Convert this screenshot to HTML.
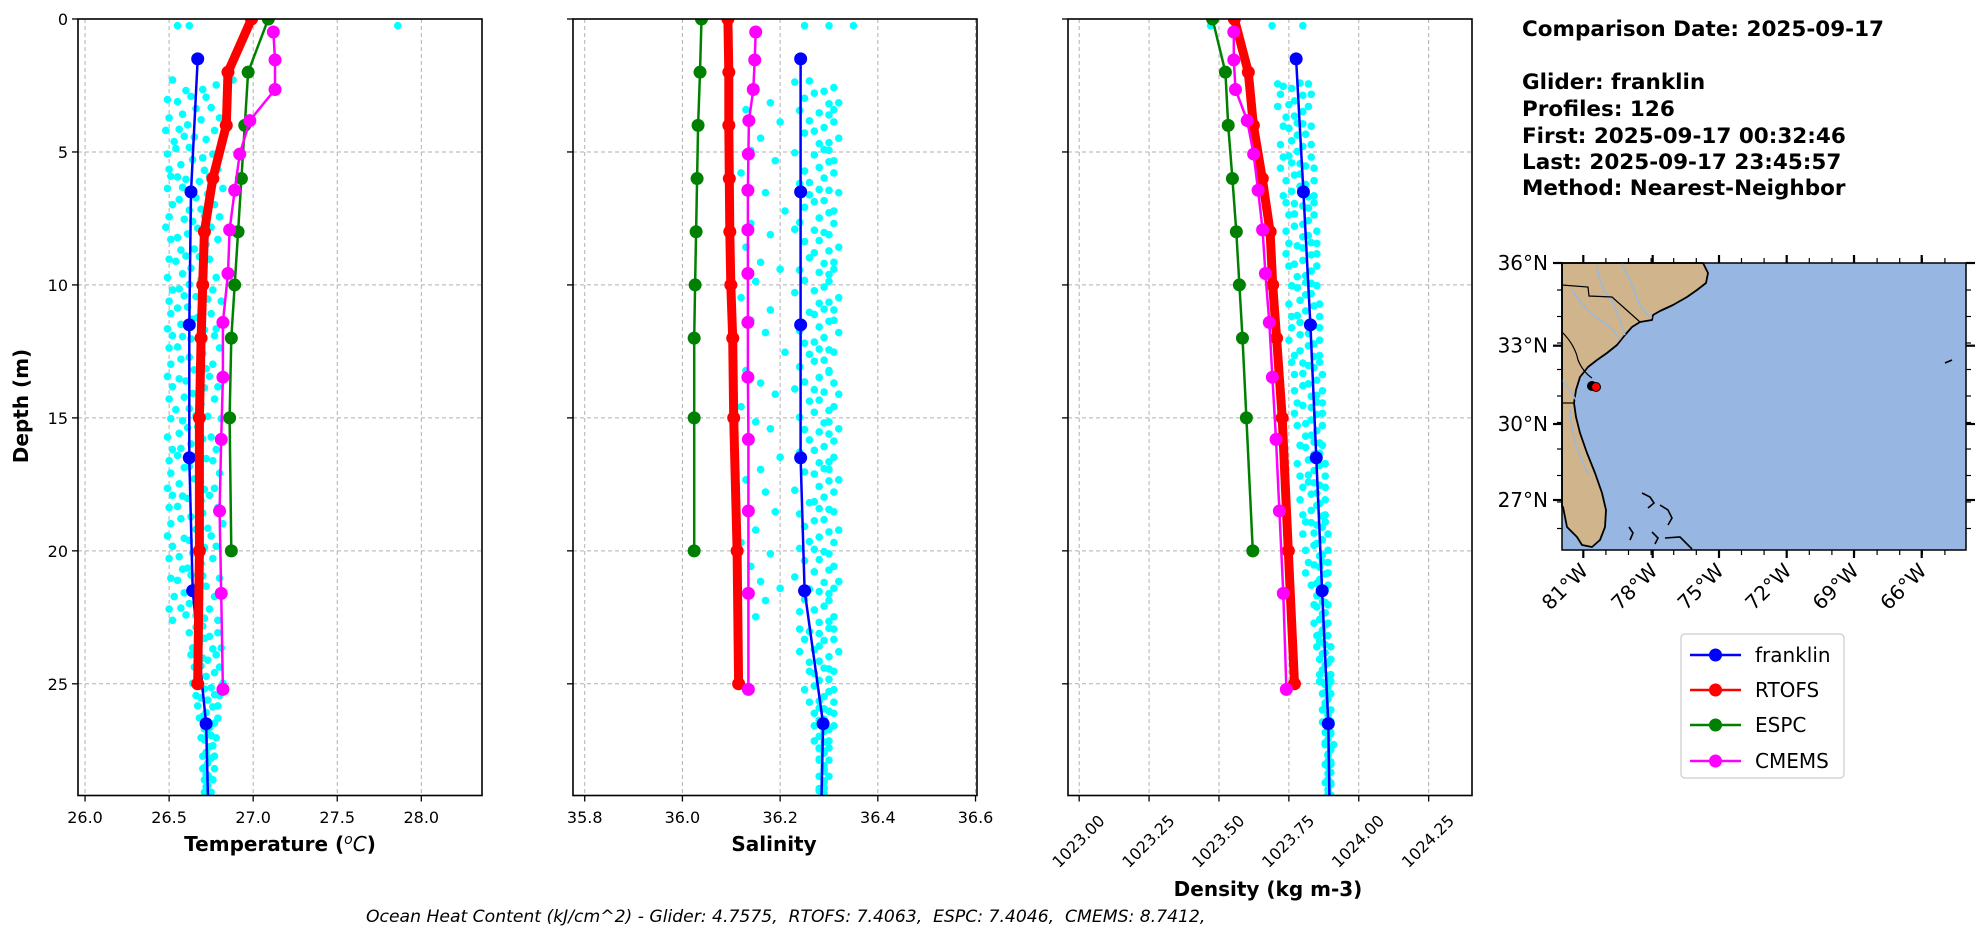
<!DOCTYPE html>
<html><head><meta charset="utf-8">
<style>
html,body{margin:0;padding:0;background:#fff;}
svg{display:block;font-family:"DejaVu Sans","Liberation Sans",sans-serif;}
</style></head>
<body>
<svg id="fig" width="1978" height="934" viewBox="0 0 1978 934" xmlns="http://www.w3.org/2000/svg">
<defs>
<clipPath id="clipT"><rect x="78" y="19" width="404" height="777"/></clipPath>
<clipPath id="clipS"><rect x="573" y="19" width="404" height="777"/></clipPath>
<clipPath id="clipD"><rect x="1068" y="19" width="404" height="777"/></clipPath>
</defs>
<g id="panels"></g>

<g font-weight="bold" font-size="21.5" fill="#000">
<text x="1522" y="36">Comparison Date: 2025-09-17</text>
<text x="1522" y="89">Glider: franklin</text>
<text x="1522" y="116">Profiles: 126</text>
<text x="1522" y="143">First: 2025-09-17 00:32:46</text>
<text x="1522" y="169">Last: 2025-09-17 23:45:57</text>
<text x="1522" y="195">Method: Nearest-Neighbor</text>
</g>

<g>
<rect x="1562" y="263" width="404" height="287" fill="#97b6e1"/>
<path fill="#d0b48c" stroke="#000" stroke-width="1.8" stroke-linejoin="round"
d="M1562,263 L1703,263 L1708,273 L1706,283 L1697,290 L1687,297 L1673,305 L1660,311 L1653,315 L1652,320 L1640,322 L1632,327 L1625,335 L1617,345 L1607,353 L1597,360 L1588,367 L1580,377 L1576,390 L1574,403 L1576,417 L1580,433 L1587,453 L1595,473 L1602,493 L1606,510 L1605,527 L1600,540 L1592,547 L1582,545 L1577,537 L1567,527 L1563,507 L1562,507 Z"/>
<g fill="none" stroke="#9ab8e0" stroke-width="1.5">
<path d="M1597,265 Q1600,290 1612,300 Q1620,320 1625,335"/>
<path d="M1622,263 Q1630,280 1636,295 Q1640,310 1652,318"/>
<path d="M1572,290 Q1585,310 1600,320 Q1615,330 1620,340"/>
<path d="M1562,380 Q1570,390 1576,400"/>
<path d="M1570,410 Q1572,440 1582,460 Q1585,470 1590,475"/>
</g>
<g fill="none" stroke="#000" stroke-width="1.2">
<path d="M1562,285 L1588,287 L1589,296 L1612,297 L1640,322"/>
<path d="M1562,332 Q1575,345 1578,360 Q1583,372 1592,378"/>
<path d="M1563,403 L1574,403"/>
</g>
<g fill="none" stroke="#000" stroke-width="1.6">
<path d="M1642,493 L1650,497 L1654,503 L1648,508"/>
<path d="M1660,505 L1668,510 L1672,518 L1668,525"/>
<path d="M1629,527 L1633,533 L1630,540"/>
<path d="M1652,532 L1658,538 L1655,544"/>
<path d="M1665,538 L1680,537 L1692,549"/>
<path d="M1945,363 L1952,360"/>
</g>
<circle cx="1592" cy="386" r="5" fill="#000"/>
<circle cx="1596" cy="387" r="4.5" fill="#ff0000" stroke="#000" stroke-width="1"/>
<rect x="1562" y="263" width="404" height="287" fill="none" stroke="#000" stroke-width="1.5"/>
<g id="mapticks"></g>
</g>

<g>
<rect x="1681" y="634" width="163" height="144" rx="4" fill="#fff" stroke="#ccc" stroke-width="1.2"/>
<g id="legendEntries"></g>
</g>

<text x="366" y="922" font-size="17.2" font-style="italic" fill="#000" style="white-space:pre">Ocean Heat Content (kJ/cm^2) - Glider: 4.7575,  RTOFS: 7.4063,  ESPC: 7.4046,  CMEMS: 8.7412,</text>
</svg>

<script>
// ---------- data ----------
const depthTicks = [0, 5, 10, 15, 20, 25];
const tempTicks = [26.0, 26.5, 27.0, 27.5, 28.0];
const tempTickLabels = ["26.0", "26.5", "27.0", "27.5", "28.0"];
const salTicks = [35.8, 36.0, 36.2, 36.4, 36.6];
const salTickLabels = ["35.8", "36.0", "36.2", "36.4", "36.6"];
const densTicks = [1023.0, 1023.25, 1023.5, 1023.75, 1024.0, 1024.25];
const densTickLabels = ["1023.00", "1023.25", "1023.50", "1023.75", "1024.00", "1024.25"];

const gliderDepth = [1.5, 6.5, 11.5, 16.5, 21.5, 26.5, 31.5];
const gliderTemp = [26.67, 26.63, 26.62, 26.62, 26.64, 26.72, 26.74];
const gliderSal = [36.242, 36.242, 36.242, 36.242, 36.250, 36.288, 36.282];
const gliderDens = [1023.776, 1023.802, 1023.827, 1023.848, 1023.869, 1023.891, 1023.898];

const rtofsDepth = [0, 2, 4, 6, 8, 10, 12, 15, 20, 25];
const rtofsTemp = [26.99, 26.85, 26.84, 26.76, 26.71, 26.70, 26.69, 26.68, 26.68, 26.67];
const rtofsSal = [36.093, 36.095, 36.095, 36.096, 36.097, 36.099, 36.103, 36.105, 36.112, 36.115];
const rtofsDens = [1023.555, 1023.605, 1023.623, 1023.655, 1023.683, 1023.692, 1023.706, 1023.726, 1023.748, 1023.770];

const espcDepth = [0, 2, 4, 6, 8, 10, 12, 15, 20];
const espcTemp = [27.09, 26.97, 26.95, 26.93, 26.91, 26.89, 26.87, 26.86, 26.87];
const espcSal = [36.039, 36.036, 36.032, 36.030, 36.028, 36.026, 36.024, 36.024, 36.024];
const espcDens = [1023.477, 1023.523, 1023.533, 1023.548, 1023.562, 1023.573, 1023.584, 1023.598, 1023.621];

const cmemsDepth = [0.49, 1.54, 2.65, 3.82, 5.08, 6.44, 7.93, 9.57, 11.41, 13.47, 15.81, 18.5, 21.6, 25.21];
const cmemsTemp = [27.12, 27.13, 27.13, 26.98, 26.92, 26.89, 26.86, 26.85, 26.82, 26.82, 26.81, 26.80, 26.81, 26.82];
const cmemsSal = [36.150, 36.148, 36.145, 36.136, 36.135, 36.134, 36.134, 36.134, 36.134, 36.134, 36.135, 36.135, 36.135, 36.135];
const cmemsDens = [1023.553, 1023.553, 1023.559, 1023.601, 1023.624, 1023.640, 1023.656, 1023.666, 1023.680, 1023.691, 1023.704, 1023.716, 1023.730, 1023.741];

// glider raw observations (cyan scatter): level depths and 5 observations per level
const scatLevels = [2.5,3,3.5,4,4.5,5,5.5,6,6.5,7,7.5,8,8.5,9,9.5,10,10.5,11,11.5,12,12.5,13,13.5,14,14.5,15,15.5,16,16.5,17,17.5,18,18.5,19,19.5,20,20.5,21,21.5,22,22.5,23,23.5,24,24.5,25,25.5,26,26.5,27,27.5,28,28.5,29];
// per-observation depth offsets within a level (profile timing differences)
const obsDepthOffset = [-0.21, 0.08, -0.06, 0.19, -0.13, 0.03, 0.15, -0.17, 0.11, -0.02, 0.22, -0.09];
const scatTemp = [
[26.52,26.60,26.70,26.78,26.88],[26.49,26.55,26.63,26.72,26.84],[26.50,26.58,26.66,26.75,26.80],[26.48,26.56,26.61,26.69,26.77],
[26.53,26.59,26.65,26.72,26.81],[26.49,26.54,26.62,26.70,26.76],[26.50,26.57,26.64,26.71,26.79],[26.51,26.55,26.60,26.68,26.74],
[26.49,26.58,26.66,26.73,26.82],[26.52,26.56,26.62,26.69,26.77],[26.50,26.59,26.64,26.71,26.80],[26.48,26.55,26.61,26.67,26.75],
[26.51,26.57,26.65,26.72,26.79],[26.50,26.54,26.60,26.68,26.74],[26.49,26.58,26.63,26.70,26.78],[26.52,26.56,26.62,26.69,26.76],
[26.50,26.59,26.66,26.73,26.81],[26.51,26.55,26.61,26.67,26.75],[26.49,26.57,26.64,26.71,26.78],[26.52,26.58,26.63,26.69,26.77],
[26.50,26.55,26.62,26.70,26.80],[26.51,26.57,26.65,26.72,26.76],[26.49,26.56,26.60,26.68,26.74],[26.52,26.59,26.64,26.71,26.79],
[26.50,26.54,26.62,26.69,26.77],[26.51,26.58,26.66,26.73,26.81],[26.49,26.56,26.61,26.67,26.75],[26.52,26.57,26.63,26.70,26.78],
[26.50,26.55,26.64,26.72,26.76],[26.51,26.59,26.62,26.68,26.80],[26.49,26.56,26.65,26.71,26.77],[26.52,26.58,26.61,26.69,26.74],
[26.50,26.55,26.63,26.70,26.79],[26.51,26.57,26.66,26.73,26.82],[26.49,26.59,26.62,26.68,26.75],[26.52,26.56,26.64,26.71,26.78],
[26.50,26.58,26.61,26.69,26.76],[26.51,26.55,26.63,26.70,26.80],[26.53,26.59,26.65,26.72,26.77],[26.50,26.57,26.62,26.68,26.74],
[26.52,26.60,26.66,26.71,26.79],[26.62,26.66,26.70,26.74,26.79],[26.64,26.68,26.71,26.76,26.81],[26.63,26.67,26.70,26.73,26.78],
[26.65,26.69,26.72,26.77,26.80],[26.64,26.68,26.71,26.75,26.82],[26.66,26.69,26.73,26.77,26.80],[26.67,26.70,26.72,26.76,26.79],
[26.68,26.71,26.74,26.77,26.79],[26.69,26.71,26.73,26.75,26.78],[26.70,26.72,26.74,26.76,26.77],[26.70,26.71,26.73,26.75,26.77],
[26.71,26.72,26.73,26.74,26.76],[26.71,26.72,26.73,26.74,26.75]];
const scatSal = [
[36.15,36.23,36.26,36.29,36.31],[36.18,36.25,36.27,36.30,36.32],[36.13,36.24,36.28,36.30,36.31],[36.20,36.26,36.27,36.29,36.31],
[36.16,36.25,36.28,36.30,36.32],[36.14,36.23,36.27,36.29,36.30],[36.19,36.25,36.28,36.30,36.31],[36.12,36.24,36.26,36.29,36.31],
[36.17,36.26,36.28,36.30,36.32],[36.21,36.25,36.27,36.29,36.31],[36.14,36.24,36.28,36.30,36.31],[36.18,36.23,36.27,36.29,36.30],
[36.13,36.25,36.28,36.30,36.32],[36.16,36.26,36.27,36.29,36.31],[36.20,36.24,36.28,36.30,36.31],[36.15,36.25,36.27,36.29,36.30],
[36.12,36.23,36.28,36.30,36.32],[36.18,36.26,36.27,36.29,36.31],[36.14,36.24,36.28,36.30,36.31],[36.17,36.25,36.27,36.29,36.32],
[36.21,36.26,36.28,36.30,36.31],[36.13,36.24,36.27,36.29,36.30],[36.16,36.25,36.28,36.30,36.31],[36.19,36.23,36.27,36.29,36.32],
[36.12,36.26,36.28,36.30,36.31],[36.15,36.24,36.27,36.29,36.30],[36.18,36.25,36.28,36.30,36.32],[36.14,36.26,36.27,36.29,36.31],
[36.20,36.24,36.28,36.30,36.31],[36.16,36.25,36.27,36.29,36.30],[36.13,36.23,36.28,36.30,36.32],[36.17,36.26,36.27,36.29,36.31],
[36.19,36.24,36.28,36.30,36.31],[36.15,36.25,36.27,36.29,36.32],[36.12,36.26,36.28,36.30,36.31],[36.18,36.24,36.27,36.29,36.30],
[36.14,36.25,36.28,36.30,36.31],[36.16,36.23,36.27,36.29,36.32],[36.20,36.26,36.28,36.30,36.31],[36.17,36.25,36.27,36.29,36.30],
[36.15,36.24,36.28,36.30,36.31],[36.24,36.26,36.28,36.30,36.31],[36.25,36.27,36.28,36.29,36.31],[36.24,36.26,36.28,36.30,36.32],
[36.26,36.27,36.29,36.30,36.31],[36.25,36.27,36.28,36.30,36.31],[36.26,36.28,36.29,36.30,36.31],[36.27,36.28,36.29,36.30,36.31],
[36.27,36.28,36.29,36.30,36.31],[36.27,36.28,36.29,36.29,36.30],[36.28,36.28,36.29,36.29,36.30],[36.28,36.28,36.29,36.29,36.30],
[36.28,36.29,36.29,36.29,36.30],[36.28,36.28,36.29,36.29,36.29]];
const scatDens = [
[1023.71,1023.73,1023.76,1023.79,1023.82],[1023.72,1023.75,1023.77,1023.80,1023.83],[1023.71,1023.74,1023.77,1023.80,1023.82],[1023.73,1023.75,1023.78,1023.80,1023.83],
[1023.72,1023.76,1023.78,1023.81,1023.83],[1023.73,1023.75,1023.78,1023.80,1023.83],[1023.72,1023.76,1023.79,1023.81,1023.84],[1023.74,1023.77,1023.79,1023.81,1023.84],
[1023.73,1023.76,1023.79,1023.82,1023.84],[1023.74,1023.77,1023.80,1023.82,1023.84],[1023.75,1023.77,1023.80,1023.82,1023.84],[1023.74,1023.77,1023.80,1023.82,1023.85],
[1023.75,1023.78,1023.80,1023.83,1023.85],[1023.74,1023.77,1023.80,1023.83,1023.85],[1023.75,1023.78,1023.81,1023.83,1023.85],[1023.76,1023.78,1023.81,1023.83,1023.85],
[1023.75,1023.79,1023.81,1023.83,1023.86],[1023.76,1023.78,1023.81,1023.84,1023.86],[1023.76,1023.79,1023.82,1023.84,1023.86],[1023.75,1023.79,1023.82,1023.84,1023.86],
[1023.77,1023.79,1023.82,1023.84,1023.86],[1023.76,1023.80,1023.82,1023.84,1023.86],[1023.77,1023.80,1023.82,1023.85,1023.87],[1023.77,1023.80,1023.83,1023.85,1023.87],
[1023.78,1023.80,1023.83,1023.85,1023.87],[1023.77,1023.81,1023.83,1023.85,1023.87],[1023.78,1023.81,1023.83,1023.85,1023.87],[1023.79,1023.81,1023.84,1023.86,1023.87],
[1023.78,1023.82,1023.84,1023.86,1023.88],[1023.79,1023.82,1023.84,1023.86,1023.88],[1023.80,1023.82,1023.84,1023.86,1023.88],[1023.79,1023.83,1023.85,1023.86,1023.88],
[1023.80,1023.83,1023.85,1023.87,1023.88],[1023.81,1023.83,1023.85,1023.87,1023.88],[1023.80,1023.84,1023.85,1023.87,1023.89],[1023.81,1023.84,1023.86,1023.87,1023.89],
[1023.82,1023.84,1023.86,1023.87,1023.89],[1023.81,1023.85,1023.86,1023.88,1023.89],[1023.83,1023.85,1023.86,1023.88,1023.89],[1023.84,1023.85,1023.87,1023.88,1023.89],
[1023.84,1023.86,1023.87,1023.88,1023.89],[1023.85,1023.86,1023.87,1023.88,1023.89],[1023.85,1023.86,1023.87,1023.88,1023.90],[1023.86,1023.87,1023.88,1023.89,1023.90],
[1023.86,1023.87,1023.88,1023.89,1023.90],[1023.86,1023.87,1023.88,1023.89,1023.90],[1023.87,1023.88,1023.88,1023.89,1023.90],[1023.87,1023.88,1023.89,1023.89,1023.90],
[1023.87,1023.88,1023.89,1023.90,1023.90],[1023.88,1023.88,1023.89,1023.90,1023.90],[1023.88,1023.89,1023.89,1023.90,1023.91],[1023.88,1023.89,1023.89,1023.90,1023.90],
[1023.88,1023.89,1023.89,1023.90,1023.90],[1023.89,1023.89,1023.89,1023.90,1023.90]];
// near-surface outliers
const surfDepth = [0.25, 0.25, 0.25];
const surfTemp = [26.55, 27.86, 26.62];
const surfSal = [36.25, 36.30, 36.35];
const surfDens = [1023.47, 1023.69, 1023.80];

const mapLatTicks = ["36°N", "33°N", "30°N", "27°N"];
const mapLonTicks = ["81°W", "78°W", "75°W", "72°W", "69°W", "66°W"];

// ---------- drawing ----------
const NS = "http://www.w3.org/2000/svg";
function mk(tag, attrs, parent) {
  const e = document.createElementNS(NS, tag);
  for (const k in attrs) e.setAttribute(k, attrs[k]);
  if (parent) parent.appendChild(e);
  return e;
}
const TOP = 19, BOT = 795.5, DMAX = 29.2;
function yD(d) { return TOP + d * (BOT - TOP) / DMAX; }

const panels = [
  {key:"temperature", left:78, right:482, xmin:25.958, xmax:28.361, ticks:tempTicks, labels:tempTickLabels, clip:"clipT",
   g:gliderTemp, r:rtofsTemp, e:espcTemp, c:cmemsTemp, s:scatTemp, so:surfTemp, rot:false},
  {key:"salinity", left:573, right:977, xmin:35.776, xmax:36.603, ticks:salTicks, labels:salTickLabels, clip:"clipS",
   g:gliderSal, r:rtofsSal, e:espcSal, c:cmemsSal, s:scatSal, so:surfSal, rot:false},
  {key:"density", left:1068, right:1472, xmin:1022.96, xmax:1024.405, ticks:densTicks, labels:densTickLabels, clip:"clipD",
   g:gliderDens, r:rtofsDens, e:espcDens, c:cmemsDens, s:scatDens, so:surfDens, rot:true}
];
const root = document.getElementById("panels");

panels.forEach((p, pi) => {
  const xS = v => p.left + (v - p.xmin) * (p.right - p.left) / (p.xmax - p.xmin);
  const pg = mk("g", {}, root);
  
  
  const grid = mk("g", {stroke:"#b0b0b0", "stroke-width":1, "stroke-dasharray":"4,3"}, pg);
  
  
  p.ticks.forEach(t => { const x = xS(t); mk("line", {x1:x, x2:x, y1:TOP, y2:BOT}, grid); });
  depthTicks.forEach(d => { const y = yD(d); mk("line", {x1:p.left, x2:p.right, y1:y, y2:y}, grid); });

  const plot = mk("g", {"clip-path":"url(#" + p.clip + ")"}, pg);
  
  
  const sc = mk("g", {fill:"#00ffff"}, plot);
  
  
  scatLevels.forEach((lv, i) => {
    p.s[i].forEach((v, j) => {
      const k = (i * 5 + j * 3 + pi) % obsDepthOffset.length;
      const c = mk("circle", {cx:xS(v), cy:yD(lv + obsDepthOffset[k]), r:3.8}, sc);
      
      
    });
  });
  surfDepth.forEach((d, i) => {
    const c = mk("circle", {cx:xS(p.so[i]), cy:yD(d), r:3.8}, sc);
    
    
  });
  const series = [
    {name:"franklin", vals:p.g, depth:gliderDepth, color:"#0000ff", lw:2.5, mr:6.5},
    {name:"rtofs", vals:p.r, depth:rtofsDepth, color:"#ff0000", lw:9, mr:6.5},
    {name:"espc", vals:p.e, depth:espcDepth, color:"#008000", lw:2.5, mr:6.5},
    {name:"cmems", vals:p.c, depth:cmemsDepth, color:"#ff00ff", lw:2.5, mr:6.5}
  ];
  series.forEach(s => {
    const sg = mk("g", {}, plot);
    
    
    const pts = s.vals.map((v, i) => xS(v).toFixed(1) + "," + yD(s.depth[i]).toFixed(1)).join(" ");
    const pl = mk("polyline", {points:pts, fill:"none", stroke:s.color, "stroke-width":s.lw, "stroke-linejoin":"round", "stroke-linecap":"round"}, sg);
    
    
    s.vals.forEach((v, i) => {
      const m = mk("circle", {cx:xS(v), cy:yD(s.depth[i]), r:s.mr, fill:s.color}, sg);
      
      
    });
  });
  const fr = mk("rect", {x:p.left, y:TOP, width:p.right - p.left, height:BOT - TOP, fill:"none", stroke:"#000", "stroke-width":1.6}, pg);
  
  
  const xt = mk("g", {"font-size":16, fill:"#000"}, pg);
  
  
  p.ticks.forEach((t, i) => {
    const x = xS(t);
    mk("line", {x1:x, x2:x, y1:BOT, y2:BOT + 6, stroke:"#000", "stroke-width":1.3}, xt);
    let tx;
    if (p.rot) {
      tx = mk("text", {x:x, y:842, "text-anchor":"middle", "dominant-baseline":"middle", transform:"rotate(-45 " + x + " 842)"}, xt);
    } else {
      tx = mk("text", {x:x, y:823, "text-anchor":"middle"}, xt);
    }
    tx.textContent = p.labels[i];
    
    
  });
  const yt = mk("g", {"font-size":16, fill:"#000"}, pg);
  
  
  depthTicks.forEach(d => {
    const y = yD(d);
    mk("line", {x1:p.left - 6, x2:p.left, y1:y, y2:y, stroke:"#000", "stroke-width":1.3}, yt);
    if (pi === 0) {
      const tx = mk("text", {x:p.left - 10, y:y + 6, "text-anchor":"end"}, yt);
      tx.textContent = String(d);
      
      
    }
  });
});

(function(){
  const t1 = mk("text", {x:280, y:851, "text-anchor":"middle", "font-size":20, "font-weight":"bold"}, root);
  t1.innerHTML = 'Temperature (<tspan font-style="italic" font-weight="normal" font-size="14" dy="-7">o</tspan><tspan font-style="italic" font-weight="normal" dy="7">C</tspan>)';
  
  
  const t2 = mk("text", {x:774, y:851, "text-anchor":"middle", "font-size":20, "font-weight":"bold"}, root);
  t2.textContent = "Salinity";
  
  
  const t3 = mk("text", {x:1268, y:896, "text-anchor":"middle", "font-size":20, "font-weight":"bold"}, root);
  t3.textContent = "Density (kg m-3)";
  
  
  const t4 = mk("text", {x:0, y:0, "text-anchor":"middle", "font-size":20, "font-weight":"bold", transform:"translate(28 406) rotate(-90)"}, root);
  t4.textContent = "Depth (m)";
  
  
})();

(function(){
  const g = document.getElementById("mapticks");
  const latY = [263, 345.7, 424, 500];
  const lonX = [1583.3, 1652.7, 1719, 1786.7, 1854, 1921.7];
  const tk = {stroke:"#000", "stroke-width":2.2};
  latY.forEach((y, i) => {
    mk("line", Object.assign({x1:1553, x2:1562, y1:y, y2:y}, tk), g);
    mk("line", Object.assign({x1:1966, x2:1975, y1:y, y2:y}, tk), g);
    const t = mk("text", {x:1548, y:y + 7, "text-anchor":"end", "font-size":20}, g);
    t.textContent = mapLatTicks[i];
    
    
  });
  for (let y = 263 + 27; y < 550; y += 26.5) {
    mk("line", {x1:1557, x2:1562, y1:y, y2:y, stroke:"#000", "stroke-width":1.2}, g);
    mk("line", {x1:1966, x2:1971, y1:y, y2:y, stroke:"#000", "stroke-width":1.2}, g);
  }
  lonX.forEach((x, i) => {
    mk("line", Object.assign({x1:x, x2:x, y1:550, y2:558}, tk), g);
    mk("line", Object.assign({x1:x, x2:x, y1:255, y2:263}, tk), g);
    const t = mk("text", {x:x + 6, y:572, "text-anchor":"end", "font-size":20, transform:"rotate(-45 " + (x + 6) + " 572)"}, g);
    t.textContent = mapLonTicks[i];
    
    
  });
  for (let x = 1583.3 + 22.6; x < 1966; x += 22.6) {
    mk("line", {x1:x, x2:x, y1:550, y2:555, stroke:"#000", "stroke-width":1.2}, g);
    mk("line", {x1:x, x2:x, y1:258, y2:263, stroke:"#000", "stroke-width":1.2}, g);
  }
})();

(function(){
  const g = document.getElementById("legendEntries");
  const names = ["franklin", "RTOFS", "ESPC", "CMEMS"];
  const colors = ["#0000ff", "#ff0000", "#008000", "#ff00ff"];
  const ys = [655, 690, 725, 761];
  names.forEach((n, i) => {
    const e = mk("g", {}, g);
    
    
    mk("line", {x1:1690, x2:1741, y1:ys[i], y2:ys[i], stroke:colors[i], "stroke-width":2.5}, e);
    mk("circle", {cx:1715.5, cy:ys[i], r:6.5, fill:colors[i]}, e);
    const t = mk("text", {x:1755, y:ys[i] + 7, "font-size":20}, e);
    t.textContent = n;
  });
})();
</script>
</body></html>
